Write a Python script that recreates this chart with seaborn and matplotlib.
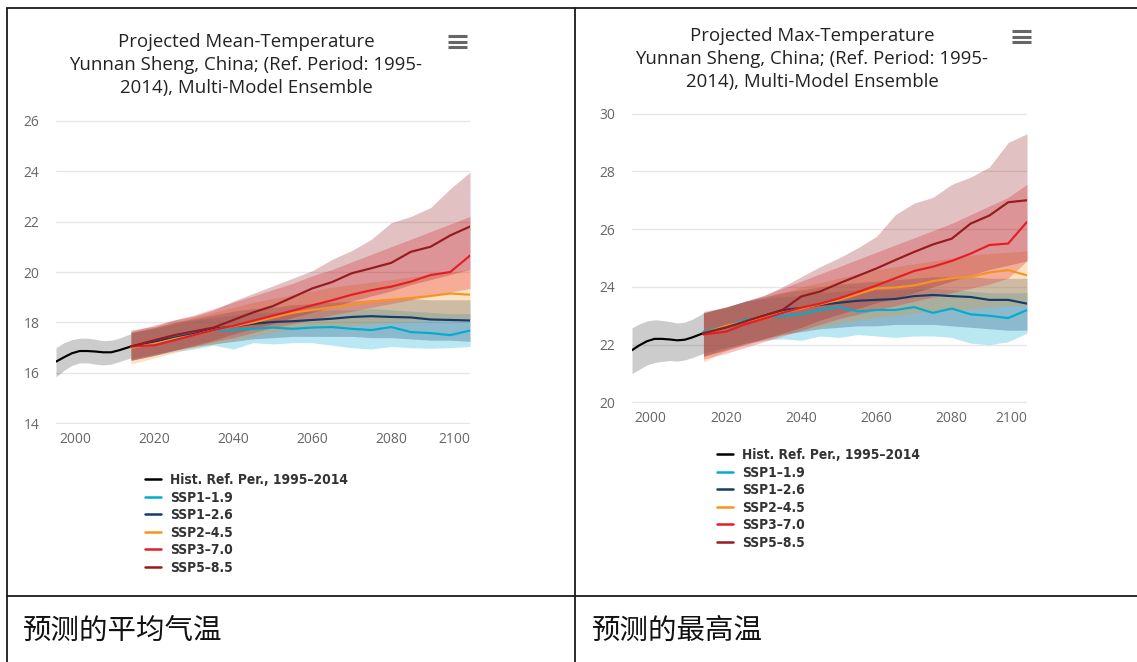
import numpy as np
import pandas as pd
import matplotlib
matplotlib.use("Agg")
import matplotlib.pyplot as plt
import seaborn as sns
from matplotlib.lines import Line2D

sns.set_theme(style="white")
plt.rcParams["font.family"] = ["Open Sans", "DejaVu Sans"]

W, H = 1137, 662

# ---------------- data ----------------
series_names = ["Hist", "SSP1-1.9", "SSP1-2.6", "SSP2-4.5", "SSP3-7.0", "SSP5-8.5"]
legend_labels = ["Hist. Ref. Per., 1995–2014", "SSP1–1.9", "SSP1–2.6",
                 "SSP2–4.5", "SSP3–7.0", "SSP5–8.5"]
series_colors = ["#000000", "#00ADCF", "#173C66", "#F79420", "#E71D25", "#951B1E"]

years_hist = [1995, 1997, 1999, 2001, 2003, 2005, 2007, 2009, 2011, 2013, 2014]
years_proj = [2014, 2020, 2025, 2030, 2035, 2040, 2045, 2050, 2055,
              2060, 2065, 2070, 2075, 2080, 2085, 2090, 2095, 2100]

# ---- Projected Mean-Temperature ----
mean_hist = [16.45, 16.62, 16.78, 16.87, 16.87, 16.85, 16.82, 16.82, 16.9, 17.0, 17.05]
mean_hist_lo = [15.85, 16.1, 16.3, 16.4, 16.4, 16.35, 16.32, 16.35, 16.45, 16.55, 16.6]
mean_hist_hi = [17.0, 17.2, 17.32, 17.38, 17.38, 17.33, 17.28, 17.3, 17.38, 17.5, 17.55]

mean_119 = [17.05, 17.25, 17.42, 17.55, 17.68, 17.7, 17.75, 17.8, 17.75, 17.8, 17.82, 17.75, 17.7, 17.82, 17.62, 17.58, 17.5, 17.68]
mean_119_lo = [16.5, 16.7, 16.85, 16.95, 17.1, 16.95, 17.2, 17.15, 17.2, 17.2, 17.1, 17.0, 16.95, 17.05, 17.0, 16.98, 17.0, 17.05]
mean_119_hi = [17.6, 17.75, 17.95, 18.1, 18.2, 18.3, 18.4, 18.4, 18.45, 18.45, 18.5, 18.5, 18.55, 18.5, 18.45, 18.4, 18.35, 18.35]

mean_126 = [17.05, 17.25, 17.4, 17.55, 17.75, 17.85, 17.95, 18.02, 18.05, 18.1, 18.15, 18.22, 18.25, 18.22, 18.2, 18.12, 18.1, 18.08]
mean_126_lo = [16.55, 16.75, 16.9, 17.05, 17.15, 17.25, 17.35, 17.4, 17.45, 17.45, 17.45, 17.45, 17.4, 17.4, 17.35, 17.3, 17.3, 17.25]
mean_126_hi = [17.6, 17.8, 18.0, 18.15, 18.3, 18.45, 18.55, 18.6, 18.7, 18.75, 18.8, 18.85, 18.9, 18.95, 18.95, 18.9, 18.9, 18.9]

mean_245 = [17.0, 17.15, 17.35, 17.5, 17.7, 17.85, 18.0, 18.2, 18.38, 18.5, 18.6, 18.72, 18.82, 18.9, 18.97, 19.05, 19.15, 19.1]
mean_245_lo = [16.35, 16.6, 16.8, 17.0, 17.15, 17.3, 17.45, 17.6, 17.7, 17.8, 17.85, 17.9, 17.95, 18.0, 18.05, 18.1, 18.1, 18.1]
mean_245_hi = [17.6, 17.8, 18.0, 18.2, 18.4, 18.6, 18.8, 18.95, 19.1, 19.25, 19.4, 19.5, 19.6, 19.7, 19.8, 19.9, 20.0, 20.1]

mean_370 = [17.05, 17.1, 17.3, 17.5, 17.7, 17.87, 18.07, 18.27, 18.47, 18.68, 18.88, 19.1, 19.28, 19.42, 19.62, 19.88, 20.0, 20.65]
mean_370_lo = [16.5, 16.7, 16.9, 17.05, 17.25, 17.4, 17.6, 17.8, 17.95, 18.1, 18.3, 18.45, 18.6, 18.75, 18.9, 19.05, 19.2, 19.35]
mean_370_hi = [17.65, 17.9, 18.1, 18.3, 18.55, 18.8, 19.05, 19.3, 19.55, 19.85, 20.1, 20.4, 20.7, 21.0, 21.3, 21.6, 21.9, 22.2]

mean_585 = [17.05, 17.3, 17.5, 17.65, 17.8, 18.1, 18.4, 18.65, 19.0, 19.35, 19.6, 19.95, 20.15, 20.36, 20.8, 21.0, 21.45, 21.8]
mean_585_lo = [16.5, 16.7, 16.9, 17.1, 17.3, 17.55, 17.75, 17.95, 18.2, 18.4, 18.6, 18.85, 19.05, 19.25, 19.5, 19.7, 19.9, 20.1]
mean_585_hi = [17.7, 17.85, 18.1, 18.25, 18.5, 18.85, 19.15, 19.45, 19.75, 20.05, 20.5, 20.85, 21.3, 21.95, 22.2, 22.55, 23.3, 23.95]

# ---- Projected Max-Temperature ----
max_hist = [21.81, 21.98, 22.12, 22.2, 22.2, 22.18, 22.15, 22.17, 22.25, 22.35, 22.4]
max_hist_lo = [21.0, 21.15, 21.3, 21.38, 21.42, 21.45, 21.43, 21.47, 21.55, 21.65, 21.7]
max_hist_hi = [22.58, 22.72, 22.82, 22.86, 22.84, 22.8, 22.75, 22.78, 22.88, 23.02, 23.1]

max_119 = [22.45, 22.65, 22.85, 22.95, 23.0, 23.05, 23.2, 23.3, 23.15, 23.2, 23.2, 23.3, 23.1, 23.25, 23.05, 23.0, 22.92, 23.2]
max_119_lo = [21.7, 21.9, 22.05, 22.15, 22.2, 22.15, 22.3, 22.25, 22.35, 22.3, 22.25, 22.3, 22.3, 22.25, 22.05, 22.0, 22.1, 22.4]
max_119_hi = [23.1, 23.3, 23.5, 23.6, 23.65, 23.7, 23.8, 23.85, 23.9, 23.9, 23.9, 23.95, 23.95, 23.9, 23.85, 23.8, 23.8, 23.8]

max_126 = [22.4, 22.6, 22.8, 23.0, 23.2, 23.27, 23.38, 23.45, 23.52, 23.55, 23.58, 23.68, 23.72, 23.68, 23.65, 23.55, 23.55, 23.42]
max_126_lo = [21.6, 21.85, 22.05, 22.2, 22.35, 22.45, 22.55, 22.6, 22.65, 22.65, 22.7, 22.7, 22.7, 22.65, 22.6, 22.55, 22.5, 22.5]
max_126_hi = [23.1, 23.3, 23.5, 23.65, 23.8, 23.9, 24.0, 24.1, 24.15, 24.2, 24.25, 24.3, 24.35, 24.35, 24.35, 24.3, 24.3, 24.3]

max_245 = [22.4, 22.65, 22.8, 22.95, 23.1, 23.25, 23.4, 23.55, 23.75, 23.95, 23.98, 24.05, 24.2, 24.3, 24.35, 24.5, 24.58, 24.4]
max_245_lo = [21.4, 21.8, 22.0, 22.15, 22.35, 22.5, 22.6, 22.75, 22.85, 22.95, 23.0, 23.1, 23.15, 23.2, 23.25, 23.3, 23.35, 23.35]
max_245_hi = [23.1, 23.3, 23.45, 23.6, 23.8, 24.0, 24.15, 24.3, 24.45, 24.6, 24.7, 24.8, 24.9, 25.0, 25.1, 25.15, 25.2, 25.25]

max_370 = [22.35, 22.45, 22.7, 22.9, 23.1, 23.28, 23.42, 23.6, 23.82, 24.05, 24.3, 24.55, 24.7, 24.9, 25.15, 25.45, 25.5, 26.25]
max_370_lo = [21.5, 21.7, 21.9, 22.1, 22.3, 22.5, 22.7, 22.9, 23.05, 23.2, 23.35, 23.5, 23.65, 23.8, 23.95, 24.1, 24.3, 24.9]
max_370_hi = [23.1, 23.3, 23.5, 23.7, 23.95, 24.2, 24.45, 24.7, 24.95, 25.2, 25.45, 25.7, 25.95, 26.2, 26.5, 26.8, 27.1, 27.55]

max_585 = [22.4, 22.6, 22.8, 23.0, 23.2, 23.67, 23.84, 24.12, 24.38, 24.64, 24.93, 25.21, 25.47, 25.67, 26.19, 26.47, 26.93, 27.0]
max_585_lo = [21.6, 21.8, 22.0, 22.2, 22.4, 22.6, 22.85, 23.05, 23.25, 23.45, 23.6, 23.8, 24.0, 24.2, 24.4, 24.6, 24.75, 24.9]
max_585_hi = [23.15, 23.3, 23.5, 23.7, 24.0, 24.35, 24.7, 25.0, 25.35, 25.75, 26.5, 26.9, 27.1, 27.55, 27.8, 28.15, 29.0, 29.3]

mean_title = ["Projected Mean-Temperature",
              "Yunnan Sheng, China; (Ref. Period: 1995-",
              "2014), Multi-Model Ensemble"]
max_title = ["Projected Max-Temperature",
             "Yunnan Sheng, China; (Ref. Period: 1995-",
             "2014), Multi-Model Ensemble"]
mean_yticks = [14, 16, 18, 20, 22, 24, 26]
max_yticks = [20, 22, 24, 26, 28, 30]
xticks = [2000, 2020, 2040, 2060, 2080, 2100]
captions = ["预测的平均气温", "预测的最高温"]

mean_sets = [(mean_hist, mean_hist_lo, mean_hist_hi),
             (mean_119, mean_119_lo, mean_119_hi),
             (mean_126, mean_126_lo, mean_126_hi),
             (mean_245, mean_245_lo, mean_245_hi),
             (mean_370, mean_370_lo, mean_370_hi),
             (mean_585, mean_585_lo, mean_585_hi)]
max_sets = [(max_hist, max_hist_lo, max_hist_hi),
            (max_119, max_119_lo, max_119_hi),
            (max_126, max_126_lo, max_126_hi),
            (max_245, max_245_lo, max_245_hi),
            (max_370, max_370_lo, max_370_hi),
            (max_585, max_585_lo, max_585_hi)]

palette = dict(zip(series_names, series_colors))


def build_frame(sets):
    rows = []
    for name, (mid, lo, hi) in zip(series_names, sets):
        yrs = years_hist if name == "Hist" else years_proj
        for y, m, l, h in zip(yrs, mid, lo, hi):
            rows.append({"year": y, "series": name, "value": m, "lo": l, "hi": h})
    return pd.DataFrame(rows)


def draw_panel(ax, sets, ylim, yticks):
    df = build_frame(sets)
    for name in series_names:
        sub = df[df["series"] == name]
        alpha = 0.2 if name == "Hist" else 0.27
        ax.fill_between(sub["year"], sub["lo"], sub["hi"], color=palette[name],
                        alpha=alpha, linewidth=0)
    sns.lineplot(data=df, x="year", y="value", hue="series", hue_order=series_names,
                 palette=palette, estimator=None, sort=False, legend=False,
                 linewidth=1.55, ax=ax)
    ax.set_xlim(1995, 2100)
    ax.set_ylim(ylim[0] - 0.02, ylim[1] + 0.02)
    ax.set_yticks(yticks)
    ax.set_yticklabels([str(t) for t in yticks])
    ax.set_xticks(xticks)
    ax.set_xticklabels([str(t) for t in xticks])
    ax.get_xticklabels()[-1].set_horizontalalignment("right")
    ax.set_xlabel("")
    ax.set_ylabel("")
    for s in ax.spines.values():
        s.set_visible(False)
    ax.yaxis.grid(True, color="#e6e6e6", linewidth=1.0)
    ax.xaxis.grid(False)
    ax.set_axisbelow(True)
    ax.tick_params(axis="both", length=0, labelcolor="#666666", labelsize=10)
    ax.tick_params(axis="y", pad=12)
    ax.tick_params(axis="x", pad=6)


fig = plt.figure(figsize=(W / 100, H / 100), dpi=100)
fig.patch.set_facecolor("white")


def fx(x):
    return x / W


def fy(y):
    return 1 - y / H


ax1 = fig.add_axes([fx(56), fy(424), (470 - 56) / W, (424 - 120) / H])
ax2 = fig.add_axes([fx(632), fy(403), (1027 - 632) / W, (403 - 113) / H])

draw_panel(ax1, mean_sets, (14, 26), mean_yticks)
draw_panel(ax2, max_sets, (20, 30), max_yticks)

# titles
for (cx, ys, lines) in [(246, [42, 65, 88], mean_title), (812, [36, 59, 82], max_title)]:
    for yy, t in zip(ys, lines):
        fig.text(fx(cx), fy(yy), t, ha="center", va="center", fontsize=13.4,
                 color="#222222", family=["Open Sans", "DejaVu Sans"])

# hamburger menu icons
for (x0, x1, ys) in [(448, 467, [36, 41.5, 47]), (1012, 1031, [31, 36.5, 42])]:
    for yy in ys:
        fig.add_artist(Line2D([fx(x0), fx(x1)], [fy(yy), fy(yy)], color="#666666",
                              linewidth=2.2, solid_capstyle="butt"))

# legends
handles = [Line2D([0], [0], color=c, linewidth=1.8) for c in series_colors]
for (lx, ly) in [(145, 473), (717, 448)]:
    fig.legend(handles, legend_labels, loc="upper left",
               bbox_to_anchor=(fx(lx), fy(ly)), frameon=False,
               borderpad=0, borderaxespad=0, handlelength=1.15, handletextpad=0.65,
               labelspacing=0.26,
               prop={"family": "DejaVu Sans", "weight": "bold", "size": 9.9,
                     "stretch": "condensed"},
               labelcolor="#333333")

# table borders
border = dict(color="#1a1a1a", linewidth=1.3)
fig.add_artist(Line2D([fx(7), 1], [fy(8), fy(8)], **border))
fig.add_artist(Line2D([fx(7), fx(7)], [fy(8), 0], **border))
fig.add_artist(Line2D([fx(575), fx(575)], [fy(8), 0], **border))
fig.add_artist(Line2D([fx(7), 1], [fy(596), fy(596)], **border))

# captions
for (cx, t) in [(23, captions[0]), (592, captions[1])]:
    fig.text(fx(cx), fy(631), t, ha="left", va="center", fontsize=20.5,
             color="#111111", family=["Noto Sans CJK SC", "DejaVu Sans"],
             fontweight="light")

fig.savefig("out.png", dpi=100, facecolor="white")
